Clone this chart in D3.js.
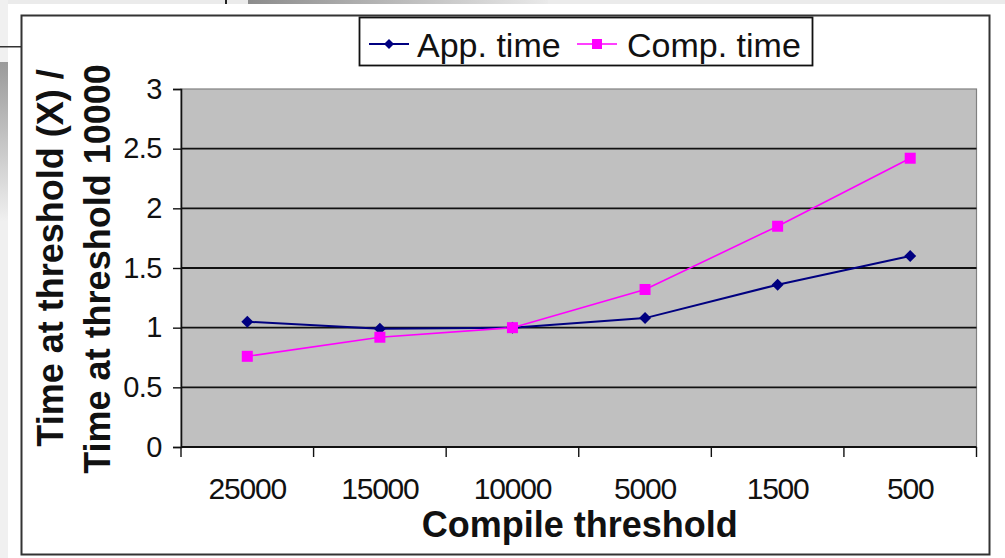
<!DOCTYPE html>
<html>
<head>
<meta charset="utf-8">
<script src="https://cdn.jsdelivr.net/npm/d3@7"></script>
<style>
  body { margin: 0; background: #fff; }
  svg { display: block; font-family: "Liberation Sans", Arial, sans-serif; }
</style>
</head>
<body>
<svg id="chart" width="1005" height="558"></svg>
<script>
// Compile threshold settings (x categories)
const categories = ["25000", "15000", "10000", "5000", "1500", "500"];
// Time at threshold X relative to threshold 10000
const appTime  = [1.05, 0.99, 1.00, 1.08, 1.36, 1.60];
const compTime = [0.76, 0.92, 1.00, 1.32, 1.85, 2.42];
const yTicks = [0, 0.5, 1, 1.5, 2, 2.5, 3];
const seriesNames = ["App. time", "Comp. time"];

const svg = d3.select("#chart");

// --- surrounding page edges ---
const defs = svg.append("defs");
const gTop = defs.append("linearGradient").attr("id", "topFade");
gTop.append("stop").attr("offset", "0%").attr("stop-color", "#8c8c8c");
gTop.append("stop").attr("offset", "100%").attr("stop-color", "#e9e9e9");
const gLeft = defs.append("linearGradient").attr("id", "leftFade")
  .attr("x1", 0).attr("y1", 0).attr("x2", 0).attr("y2", 1);
gLeft.append("stop").attr("offset", "0%").attr("stop-color", "#9a9a9a");
gLeft.append("stop").attr("offset", "100%").attr("stop-color", "#f0f0f0");

svg.append("rect").attr("x", 0).attr("y", 0).attr("width", 1005).attr("height", 4).attr("fill", "#ebebeb");
svg.append("rect").attr("x", 248).attr("y", 0).attr("width", 300).attr("height", 4).attr("fill", "url(#topFade)");
svg.append("rect").attr("x", 225).attr("y", 0).attr("width", 2).attr("height", 4).attr("fill", "#222");
svg.append("rect").attr("x", 0).attr("y", 0).attr("width", 8).attr("height", 558).attr("fill", "#f0f0f0");
svg.append("rect").attr("x", 0).attr("y", 62).attr("width", 8).attr("height", 160).attr("fill", "url(#leftFade)");
svg.append("rect").attr("x", 0).attr("y", 46).attr("width", 21).attr("height", 1.5).attr("fill", "#333");

// --- chart frame ---
svg.append("rect")
  .attr("x", 21.5).attr("y", 15.5).attr("width", 968).attr("height", 539)
  .attr("fill", "#fff").attr("stroke", "#333").attr("stroke-width", 2);

// --- scales ---
const plot = { left: 181, right: 976.5, top: 89, bottom: 447 };
const x = d3.scaleBand().domain(categories).range([plot.left, plot.right]);
const y = d3.scaleLinear().domain([0, 3]).range([plot.bottom, plot.top]);

// plot area
svg.append("rect")
  .attr("x", plot.left).attr("y", plot.top)
  .attr("width", plot.right - plot.left).attr("height", plot.bottom - plot.top)
  .attr("fill", "#c0c0c0").attr("stroke", "#808080").attr("stroke-width", 1.2);

// horizontal gridlines
svg.append("g")
  .selectAll("line")
  .data(yTicks.filter(v => v > 0 && v < 3))
  .join("line")
  .attr("x1", plot.left).attr("x2", plot.right)
  .attr("y1", d => y(d)).attr("y2", d => y(d))
  .attr("stroke", "#111").attr("stroke-width", 1.8);

// y axis
const yAxis = svg.append("g")
  .attr("transform", `translate(${plot.left},0)`)
  .call(d3.axisLeft(y).tickValues(yTicks).tickSize(8).tickPadding(11)
    .tickFormat(d => String(d)));
yAxis.select(".domain").attr("stroke", "#111").attr("stroke-width", 1.6);
yAxis.selectAll(".tick line").attr("stroke", "#111").attr("stroke-width", 1.4);
yAxis.selectAll(".tick text")
  .attr("font-size", 29).attr("fill", "#111")
  .attr("letter-spacing", -0.5)
  .attr("font-family", "'Liberation Sans', Arial, sans-serif");

// x axis with ticks on category boundaries
const xAxisG = svg.append("g").attr("transform", `translate(0,${plot.bottom})`);
xAxisG.append("line")
  .attr("x1", plot.left).attr("x2", plot.right)
  .attr("stroke", "#111").attr("stroke-width", 1.8);
const boundaries = categories.map(c => x(c)).concat([x(categories[categories.length - 1]) + x.bandwidth()]);
xAxisG.selectAll("line.tick")
  .data(boundaries)
  .join("line").attr("class", "tick")
  .attr("x1", d => d).attr("x2", d => d)
  .attr("y1", 0).attr("y2", 10)
  .attr("stroke", "#111").attr("stroke-width", 1.4);
xAxisG.selectAll("text")
  .data(categories)
  .join("text")
  .attr("x", d => x(d) + x.bandwidth() / 2)
  .attr("y", 52)
  .attr("text-anchor", "middle")
  .attr("font-size", 30).attr("fill", "#111")
  .attr("letter-spacing", -1.2)
  .text(d => d);

// axis titles
svg.append("text")
  .attr("x", (plot.left + plot.right) / 2 + 1).attr("y", 537)
  .attr("text-anchor", "middle")
  .attr("font-size", 36).attr("font-weight", "bold").attr("fill", "#111")
  .text("Compile threshold");

const yTitleLines = [
  { text: "Time at threshold (X) /", base: 63, center: 258 },
  { text: "Time at threshold 10000", base: 110, center: 269 }
];
yTitleLines.forEach(l => {
  svg.append("text")
    .attr("transform", `translate(${l.base},${l.center}) rotate(-90)`)
    .attr("text-anchor", "middle")
    .attr("font-size", 36).attr("font-weight", "bold").attr("fill", "#111")
    .text(l.text);
});

// series
const line = d3.line()
  .x((d, i) => x(categories[i]) + x.bandwidth() / 2)
  .y(d => y(d));

const diamond = "M0,-6L6,0L0,6L-6,0Z";

svg.append("path").datum(appTime)
  .attr("d", line).attr("fill", "none")
  .attr("stroke", "#000080").attr("stroke-width", 2);
svg.append("path").datum(compTime)
  .attr("d", line).attr("fill", "none")
  .attr("stroke", "#ff00ff").attr("stroke-width", 1.6);

svg.append("g").selectAll("path")
  .data(appTime)
  .join("path")
  .attr("transform", (d, i) => `translate(${x(categories[i]) + x.bandwidth() / 2},${y(d)})`)
  .attr("d", diamond).attr("fill", "#000080");

svg.append("g").selectAll("rect")
  .data(compTime)
  .join("rect")
  .attr("x", (d, i) => x(categories[i]) + x.bandwidth() / 2 - 5.5)
  .attr("y", d => y(d) - 5.5)
  .attr("width", 11).attr("height", 11)
  .attr("fill", "#ff00ff");

// legend
const legend = svg.append("g");
legend.append("rect")
  .attr("x", 359.5).attr("y", 17.5).attr("width", 453).attr("height", 48)
  .attr("fill", "#fff").attr("stroke", "#111").attr("stroke-width", 1.8);
const legendItems = [
  { name: seriesNames[0], color: "#000080", lineX: 369, textX: 417, shape: "diamond", width: 1.8 },
  { name: seriesNames[1], color: "#ff00ff", lineX: 577, textX: 627, shape: "square", width: 1.6 }
];
legendItems.forEach(it => {
  legend.append("line")
    .attr("x1", it.lineX).attr("x2", it.lineX + 40)
    .attr("y1", 44).attr("y2", 44)
    .attr("stroke", it.color).attr("stroke-width", it.width);
  if (it.shape === "diamond") {
    legend.append("path")
      .attr("transform", `translate(${it.lineX + 20},44)`)
      .attr("d", "M0,-5L5,0L0,5L-5,0Z").attr("fill", it.color);
  } else {
    legend.append("rect")
      .attr("x", it.lineX + 15).attr("y", 39).attr("width", 10).attr("height", 10)
      .attr("fill", it.color);
  }
  legend.append("text")
    .attr("x", it.textX).attr("y", 57)
    .attr("font-size", 34).attr("fill", "#111")
    .text(it.name);
});
</script>
</body>
</html>
